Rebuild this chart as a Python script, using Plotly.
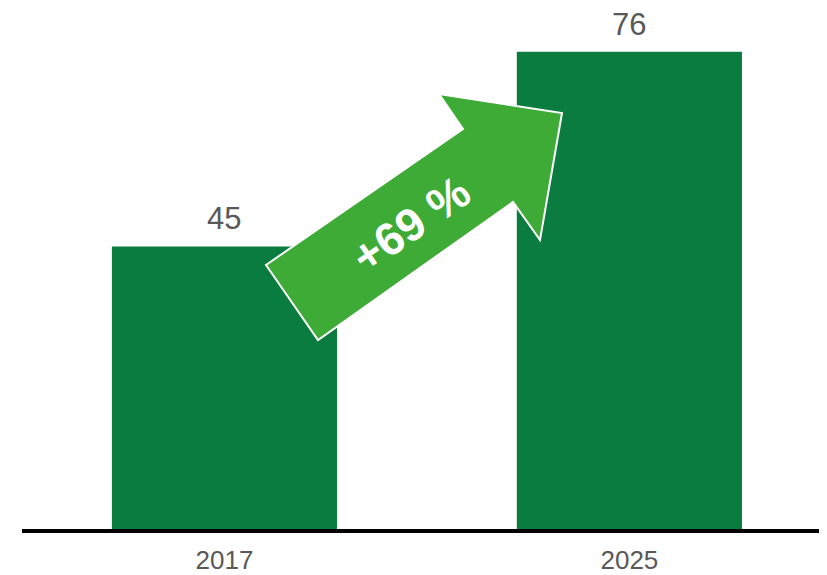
import plotly.graph_objects as go

years = ["2017", "2025"]
values = [45, 76]
change_label = "+69 %"

OFF = 8  # default page body margin
W, H = 827 - OFF, 575 - OFF
ML, MR, MT, MB = 14, 0, 0, 46
PW, PH = W - ML - MR, H - MT - MB

bar_color = "#0a7c40"
arrow_color = "#3dab35"

xpos = list(range(len(years)))

fig = go.Figure()
fig.add_trace(go.Bar(
    x=xpos, y=values, width=0.556,
    marker=dict(color=bar_color, line=dict(width=0)),
    hoverinfo="skip",
))

for xp, v in zip(xpos, values):
    fig.add_annotation(x=xp, y=v, text=str(v), showarrow=False,
                       yanchor="bottom", yshift=9, borderpad=0,
                       font=dict(family="Liberation Sans, Arial", size=31, color="#595959"))

# arrow decoration (page-pixel outline converted to paper coords)
arrow_px = [(266, 265), (318, 340), (513, 202), (540, 240), (562, 113),
            (439, 94), (463, 129)]
def to_paper(p):
    x, y = p[0] - OFF, p[1] - OFF
    return ((x - ML) / PW, (H - MB - y) / PH)
pts = [to_paper(p) for p in arrow_px]
path = "M " + " L ".join(f"{x:.5f},{y:.5f}" for x, y in pts) + " Z"
fig.add_shape(type="path", path=path, xref="paper", yref="paper",
              fillcolor=arrow_color, line=dict(color="white", width=2), layer="above")

cx, cy = to_paper((411, 224))
fig.add_annotation(x=cx, y=cy, xref="paper", yref="paper", text="<b>" + change_label + "</b>",
                   showarrow=False, textangle=-35,
                   font=dict(family="Liberation Sans, Arial", size=46, color="white"))

fig.update_layout(
    width=W, height=H,
    margin=dict(l=ML, r=MR, t=MT, b=MB),
    paper_bgcolor="white", plot_bgcolor="white",
    showlegend=False,
    xaxis=dict(range=[-0.5, 1.488], tickmode="array", tickvals=xpos, ticktext=years,
               showline=True, linecolor="black", linewidth=4, showgrid=False, zeroline=False,
               ticks="", ticklabelstandoff=5,
               tickfont=dict(family="Liberation Sans, Arial", size=26, color="#595959"),
               fixedrange=True),
    yaxis=dict(range=[0, 82.96], visible=False, showgrid=False, zeroline=False, fixedrange=True),
)

fig.write_html("out.html", config={"displayModeBar": False})
